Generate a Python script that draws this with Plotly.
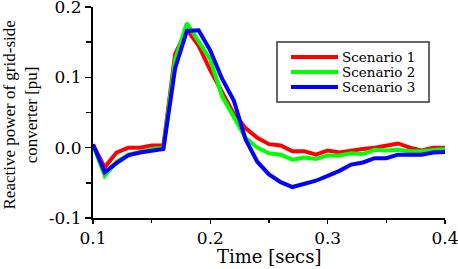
import plotly.graph_objects as go

time = [0.10, 0.11, 0.12, 0.13, 0.14, 0.15, 0.16, 0.17, 0.18, 0.19, 0.20,
        0.21, 0.22, 0.23, 0.24, 0.25, 0.26, 0.27, 0.28, 0.29, 0.30,
        0.31, 0.32, 0.33, 0.34, 0.35, 0.36, 0.37, 0.38, 0.39, 0.40]

scenario1 = [0.004, -0.028, -0.007, 0.0, 0.0, 0.003, 0.003, 0.133, 0.168, 0.145, 0.110,
             0.078, 0.048, 0.028, 0.014, 0.005, 0.003, -0.005, -0.005, -0.010, -0.004,
             -0.007, -0.004, -0.002, 0.0, 0.003, 0.006, 0.0, -0.004, 0.0, 0.0]

scenario2 = [0.004, -0.040, -0.020, -0.010, -0.006, -0.002, 0.0, 0.125, 0.177, 0.152, 0.125,
             0.073, 0.043, 0.014, 0.0, -0.008, -0.010, -0.017, -0.014, -0.016, -0.011,
             -0.011, -0.008, -0.009, -0.003, -0.004, -0.003, -0.005, -0.005, -0.004, -0.002]

scenario3 = [0.005, -0.035, -0.022, -0.011, -0.007, -0.004, -0.002, 0.113, 0.166, 0.167, 0.138,
             0.098, 0.067, 0.012, -0.020, -0.038, -0.049, -0.056, -0.051, -0.047, -0.040,
             -0.033, -0.024, -0.021, -0.015, -0.015, -0.010, -0.010, -0.010, -0.007, -0.006]

series_names = ["Scenario 1", "Scenario 2", "Scenario 3"]
series_colors = ["#ff0000", "#00ff00", "#0000ff"]

x_ticks = [0.1, 0.2, 0.3, 0.4]
x_tick_labels = ["0.1", "0.2", "0.3", "0.4"]
y_ticks = [-0.1, 0.0, 0.1, 0.2]
y_tick_labels = ["-0.1", "0.0", "0.1", "0.2"]

WIDE = "DejaVu Serif, serif"
TIMES = "Liberation Serif, Times New Roman, serif"

# plot-area pixel geometry (used only to place the hand-made legend box / titles)
L, R, T, B = 93, 445, 7, 218
def px(xp):
    return (xp - L) / (R - L)
def py(yp):
    return (B - yp) / (B - T)

fig = go.Figure()
for name, ys, col in zip(series_names, [scenario1, scenario2, scenario3], series_colors):
    fig.add_trace(go.Scatter(x=time, y=ys, mode="lines", name=name,
                             line=dict(color=col, width=4), showlegend=False,
                             hoverinfo="skip"))

shapes = [dict(type="rect", xref="paper", yref="paper",
               x0=px(277), x1=px(429), y0=py(102), y1=py(42),
               line=dict(color="#333", width=1.5), fillcolor="white", layer="above")]
annotations = []
rows = [57, 72, 87]
for name, col, ry in zip(series_names, series_colors, rows):
    shapes.append(dict(type="line", xref="paper", yref="paper",
                       x0=px(291), x1=px(338), y0=py(ry), y1=py(ry),
                       line=dict(color=col, width=4), layer="above"))
    annotations.append(dict(text=name, xref="paper", yref="paper",
                            x=px(340), y=py(ry), xanchor="left", yanchor="middle",
                            showarrow=False, font=dict(family=WIDE, size=13.5, color="black")))

annotations.append(dict(text="Time [secs]", xref="paper", yref="paper",
                        x=px(268.5), y=py(256), xanchor="center", yanchor="middle",
                        showarrow=False, font=dict(family=WIDE, size=18, color="black")))
annotations.append(dict(text="Reactive power of grid-side<br>converter [pu]", xref="paper", yref="paper",
                        x=px(20.5), y=py(115), xanchor="center", yanchor="middle", textangle=-90,
                        showarrow=False, font=dict(family=TIMES, size=17, color="black")))

fig.update_layout(
    width=458, height=269,
    margin=dict(l=L, r=458 - R, t=T, b=269 - B, autoexpand=False),
    paper_bgcolor="white", plot_bgcolor="white",
    font=dict(family=WIDE, color="black"),
    showlegend=False,
    shapes=shapes, annotations=annotations,
)

fig.update_xaxes(
    range=[0.1, 0.4], tickvals=x_ticks, ticktext=x_tick_labels,
    automargin=False, ticklabeloverflow="allow",
    showgrid=False, zeroline=False, showline=True, linecolor="black", linewidth=2,
    ticks="outside", ticklen=4, tickwidth=1.5, tickcolor="black",
    tickfont=dict(family=WIDE, size=17),
    minor=dict(tickvals=[0.15, 0.25, 0.35], ticks="outside", ticklen=3, tickwidth=1.5, tickcolor="black"),
)
fig.update_yaxes(
    range=[-0.1, 0.2], tickvals=y_ticks, ticktext=y_tick_labels,
    automargin=False, ticklabeloverflow="allow",
    showgrid=False, zeroline=False, showline=True, linecolor="black", linewidth=2,
    ticks="outside", ticklen=6, tickwidth=1.5, tickcolor="black",
    tickfont=dict(family=WIDE, size=17),
    minor=dict(tickvals=[-0.05, 0.05, 0.15], ticks="outside", ticklen=5, tickwidth=1.5, tickcolor="black"),
)

fig.write_html("out.html", config={"displayModeBar": False, "staticPlot": True},
               post_script="document.body.style.margin='0';document.body.style.overflow='hidden';")
